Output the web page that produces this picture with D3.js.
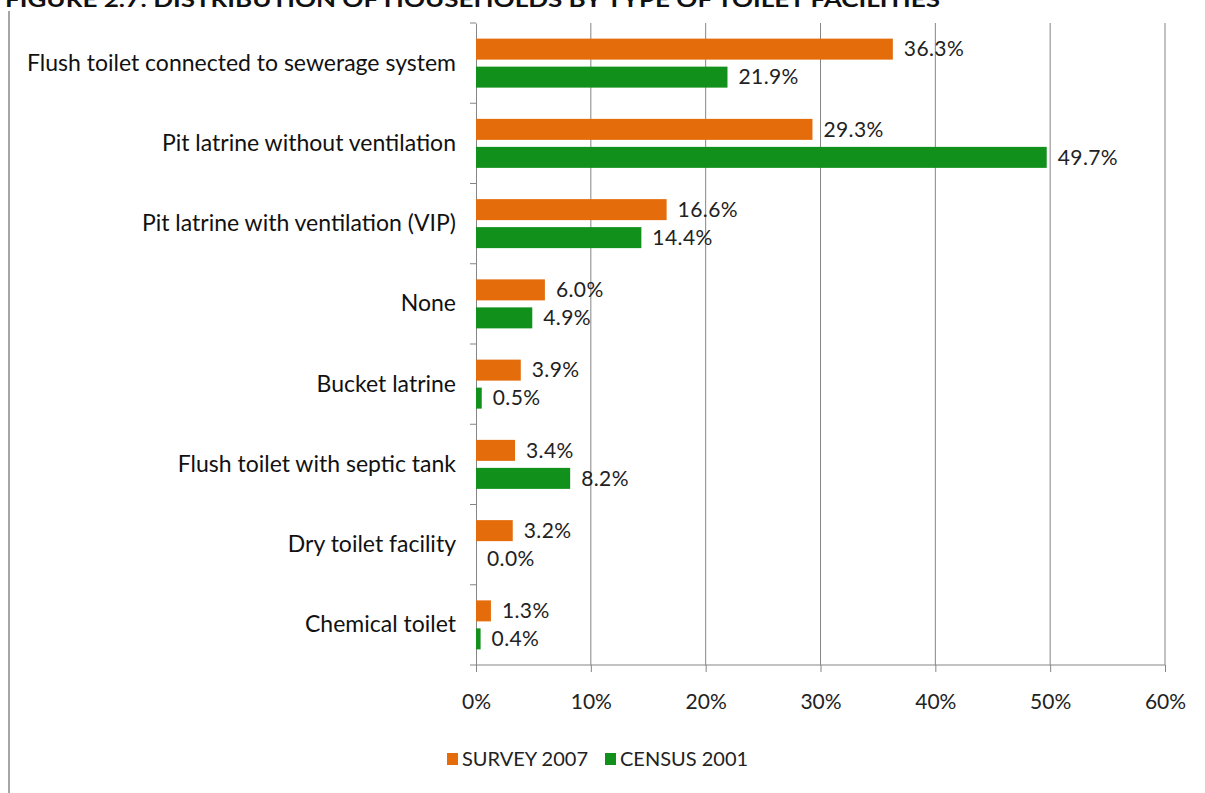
<!DOCTYPE html>
<html>
<head>
<meta charset="utf-8">
<script src="https://cdn.jsdelivr.net/npm/d3@7"></script>
<style>
  html, body { margin: 0; padding: 0; background: #fff; }
  svg { display: block; }
  text { font-family: Lato, "Open Sans", sans-serif; }
</style>
</head>
<body>
<svg id="chart" width="1205" height="793"></svg>
<script>
// Household toilet facilities, two sources
const categories = [
  "Flush toilet connected to sewerage system",
  "Pit latrine without ventilation",
  "Pit latrine with ventilation (VIP)",
  "None",
  "Bucket latrine",
  "Flush toilet with septic tank",
  "Dry toilet facility",
  "Chemical toilet"
];
const survey2007 = [36.3, 29.3, 16.6, 6.0, 3.9, 3.4, 3.2, 1.3];
const census2001 = [21.9, 49.7, 14.4, 4.9, 0.5, 8.2, 0.0, 0.4];
const seriesNames = ["SURVEY 2007", "CENSUS 2001"];
const xTicks = [0, 10, 20, 30, 40, 50, 60];
const titleText = "FIGURE 2.7: DISTRIBUTION OF HOUSEHOLDS BY TYPE OF TOILET FACILITIES";

const colors = ["#e46c0a", "#11911b"];
const svg = d3.select("#chart");

const plot = { left: 476, right: 1165, top: 23, bottom: 665 };

const x = d3.scaleLinear().domain([0, 60]).range([plot.left, plot.right]);
const y = d3.scaleBand().domain(categories).range([plot.top, plot.bottom]);

// Title (sits partly above the page edge)
svg.append("text")
  .attr("x", 5).attr("y", 7)
  .attr("textLength", 935).attr("lengthAdjust", "spacingAndGlyphs")
  .attr("font-size", 21).attr("font-weight", "bold").attr("fill", "#111")
  .text(titleText);

// Frame line on the left
svg.append("line")
  .attr("x1", 9).attr("x2", 9).attr("y1", 11).attr("y2", 793)
  .attr("stroke", "#a6a6a6").attr("stroke-width", 2);

// Vertical gridlines
svg.append("g").selectAll("line")
  .data(xTicks.slice(1))
  .join("line")
  .attr("x1", d => x(d)).attr("x2", d => x(d))
  .attr("y1", plot.top).attr("y2", plot.bottom)
  .attr("stroke", "#858585").attr("stroke-width", 1);

// Bottom axis
const xAxis = svg.append("g")
  .attr("transform", `translate(0,${plot.bottom})`)
  .call(d3.axisBottom(x).tickValues(xTicks).tickSize(7).tickPadding(22)
    .tickFormat(d => d + "%"));
xAxis.select(".domain").attr("stroke", "#858585").attr("d", `M${plot.left},0H${plot.right}`);
xAxis.selectAll(".tick line").attr("stroke", "#858585");
xAxis.selectAll(".tick text")
  .attr("font-size", 21).attr("fill", "#222")
  .attr("font-family", "Lato, sans-serif");

// Left category axis
const yAxis = svg.append("g")
  .attr("transform", `translate(${plot.left},0)`)
  .call(d3.axisLeft(y).tickSize(0).tickPadding(20));
yAxis.select(".domain").attr("stroke", "#858585");
yAxis.selectAll(".tick text")
  .attr("font-size", 23).attr("fill", "#111")
  .attr("font-family", "Lato, sans-serif");

// Category boundary ticks
svg.append("g").selectAll("line")
  .data(categories.map((c, i) => i === 0 ? plot.top : y(c)).concat([plot.bottom]))
  .join("line")
  .attr("x1", plot.left - 6).attr("x2", plot.left)
  .attr("y1", d => d).attr("y2", d => d)
  .attr("stroke", "#858585");

// Bars with value labels
const barH = 21, gap = 3.5;
const series = [survey2007, census2001];
series.forEach((vals, s) => {
  const g = svg.append("g");
  const rows = categories.map((c, i) => ({ c, v: vals[i] }));
  const top = d => s === 0
    ? y(d) + y.bandwidth() / 2 - gap - barH
    : y(d) + y.bandwidth() / 2 + gap;
  g.selectAll("rect")
    .data(rows)
    .join("rect")
    .attr("x", x(0))
    .attr("y", d => top(d.c))
    .attr("width", d => x(d.v) - x(0))
    .attr("height", barH)
    .attr("fill", colors[s]);
  g.selectAll("text")
    .data(rows)
    .join("text")
    .attr("x", d => x(d.v) + 11)
    .attr("y", d => top(d.c) + barH / 2)
    .attr("dy", "0.35em")
    .attr("font-size", 21).attr("letter-spacing", 0.4).attr("fill", "#222")
    .text(d => d.v.toFixed(1) + "%");
});

// Legend
const legend = svg.append("g").attr("transform", "translate(447,759)");
const legendX = [0, 158];
seriesNames.forEach((name, i) => {
  legend.append("rect")
    .attr("x", legendX[i]).attr("y", -6).attr("width", 11).attr("height", 12)
    .attr("fill", colors[i]);
  legend.append("text")
    .attr("x", legendX[i] + 15).attr("y", 0).attr("dy", "0.35em")
    .attr("font-size", 20).attr("fill", "#222")
    .text(name);
});
</script>
</body>
</html>
